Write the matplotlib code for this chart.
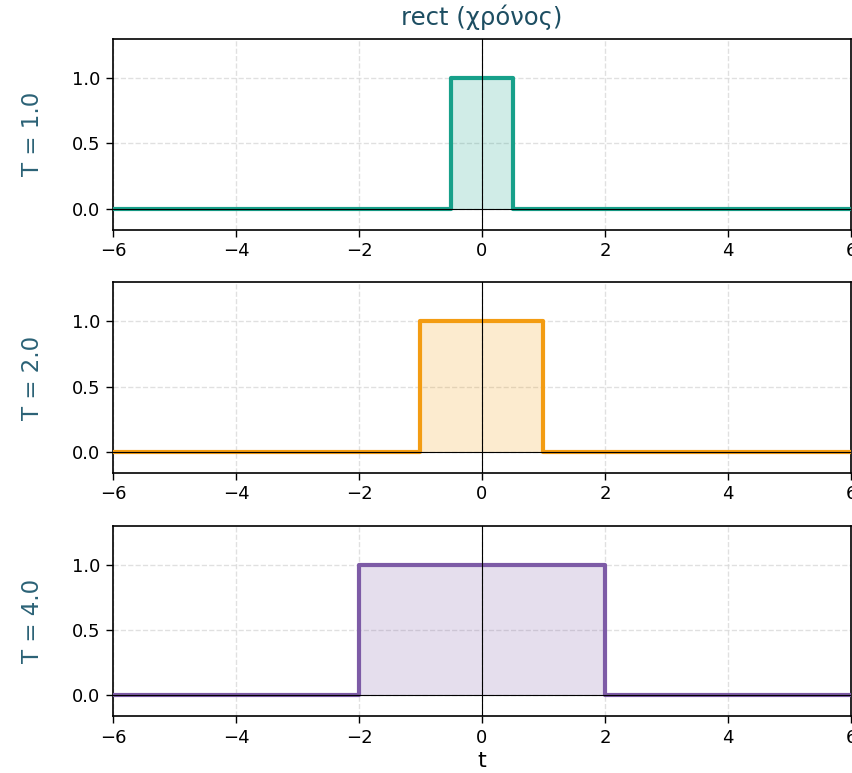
import numpy as np
import matplotlib
matplotlib.use("Agg")
import matplotlib.pyplot as plt

plt.rcParams['font.family'] = ['DejaVu Sans']

# Pulse widths and styling per panel
widths = [1.0, 2.0, 4.0]
amplitude = 1.0
colors = ["#17a08a", "#f39c12", "#7d5ba6"]
t_range = (-6.0, 6.0)
x_ticks = [-6, -4, -2, 0, 2, 4, 6]
y_ticks = [0.0, 0.5, 1.0]

title_color = "#1d4e62"
label_color = "#2b6276"

fig = plt.figure(figsize=(8.52, 7.73), dpi=100)
fig.subplots_adjust(left=0.1326, right=0.9988, top=0.9495, bottom=0.0737, hspace=0.277)
axes = fig.subplots(3, 1)

for ax, T, c in zip(axes, widths, colors):
    # rectangular pulse of width T centred at t = 0
    t = np.array([t_range[0], -T / 2, -T / 2, T / 2, T / 2, t_range[1]])
    y = np.array([0.0, 0.0, amplitude, amplitude, 0.0, 0.0])
    ax.fill_between(t, y, 0, color=c, alpha=0.2, linewidth=0, zorder=2)
    ax.plot(t, y, color=c, linewidth=3.0, zorder=3)
    ax.axhline(0, color="black", linewidth=0.8, zorder=4)
    ax.axvline(0, color="black", linewidth=0.8, zorder=4)
    ax.set_xlim(*t_range)
    ax.set_ylim(-0.16, 1.3)
    ax.set_xticks(x_ticks)
    ax.set_yticks(y_ticks)
    ax.grid(True, linestyle="--", color="#d9d9d9", linewidth=1.0, alpha=0.8)
    ax.set_axisbelow(True)
    ax.tick_params(labelsize=13, length=5, width=1.0, pad=4)
    for s in ax.spines.values():
        s.set_linewidth(1.2)
    ax.set_ylabel(f"T = {T:.1f}", fontsize=16.5, color=label_color, labelpad=20)

axes[0].set_title("rect (χρόνος)", fontsize=17.5, color=title_color, pad=10)
axes[-1].set_xlabel("t", fontsize=16, labelpad=3)

fig.savefig("out.png", dpi=100)
